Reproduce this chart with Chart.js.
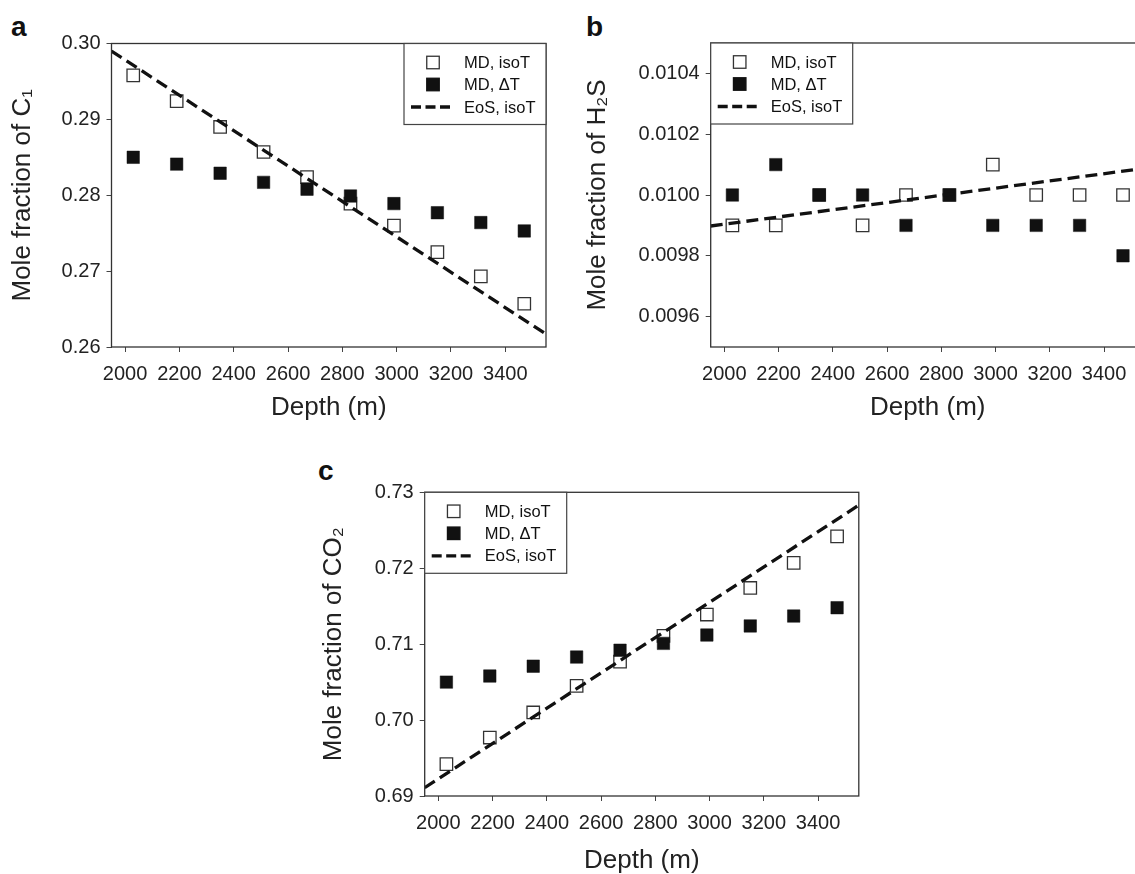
<!DOCTYPE html>
<html>
<head>
<meta charset="utf-8">
<script src="https://cdn.jsdelivr.net/npm/chart.js@4.4.1/dist/chart.umd.min.js"></script>
<style>
  body {
    margin: 0;
    width: 1135px;
    height: 874px;
    overflow: hidden;
    background: #fff;
    position: relative;
    font-family: "Liberation Sans", Arial, "DejaVu Sans", sans-serif;
  }
  canvas { position: absolute; }
  .panel-letter {
    position: absolute;
    font-weight: bold;
    font-size: 28px;
    line-height: 28px;
    color: #111;
  }
</style>
</head>
<body>
<div class="panel-letter" style="left:11px;top:13px">a</div>
<div class="panel-letter" style="left:586px;top:13px">b</div>
<div class="panel-letter" style="left:318px;top:457px">c</div>
<canvas id="chartA" width="560" height="430" style="left:0;top:0"></canvas>
<canvas id="chartB" width="600" height="430" style="left:570px;top:0"></canvas>
<canvas id="chartC" width="580" height="434" style="left:300px;top:440px"></canvas>
<script>
const FONT = '"Liberation Sans", Arial, "DejaVu Sans", sans-serif';

// depths of the MD points and of the two ends of the EoS line (m)
const depths = [2030, 2190, 2350, 2510, 2670, 2830, 2990, 3150, 3310, 3470];
const eosDepths = [1950, 3550];
const depthTicks = [2000, 2200, 2400, 2600, 2800, 3000, 3200, 3400];

// a: C1
const c1IsoT = [0.2958, 0.2924, 0.2890, 0.2857, 0.2824, 0.2789, 0.2760, 0.2725, 0.2693, 0.2657];
const c1DeltaT = [0.2850, 0.2841, 0.2829, 0.2817, 0.2808, 0.2799, 0.2789, 0.2777, 0.2764, 0.2753];
const c1Eos = [0.2990, 0.2617];
const c1Ticks = [0.26, 0.27, 0.28, 0.29, 0.30];

// b: H2S
const h2sIsoT = [0.0099, 0.0099, 0.0100, 0.0099, 0.0100, 0.0100, 0.0101, 0.0100, 0.0100, 0.0100];
const h2sDeltaT = [0.0100, 0.0101, 0.0100, 0.0100, 0.0099, 0.0100, 0.0099, 0.0099, 0.0099, 0.0098];
const h2sEos = [0.009898, 0.010088];
const h2sTicks = [0.0096, 0.0098, 0.0100, 0.0102, 0.0104];

// c: CO2
const co2IsoT = [0.6942, 0.6977, 0.7010, 0.7045, 0.7077, 0.7111, 0.7139, 0.7174, 0.7207, 0.7242];
const co2DeltaT = [0.7050, 0.7058, 0.7071, 0.7083, 0.7092, 0.7101, 0.7112, 0.7124, 0.7137, 0.7148];
const co2Eos = [0.6911, 0.7283];
const co2Ticks = [0.69, 0.70, 0.71, 0.72, 0.73];

const legendLabels = ["MD, isoT", "MD, \u0394T", "EoS, isoT"];

const toPoints = (xs, ys) => xs.map((x, i) => ({ x: x, y: ys[i] }));

// box round the plot area
const framePlugin = {
  id: "frame",
  afterDatasetsDraw(chart) {
    const { left, top, right, bottom } = chart.chartArea;
    const ctx = chart.ctx;
    ctx.save();
    ctx.strokeStyle = "#333";
    ctx.lineWidth = 1.3;
    ctx.strokeRect(left, top, right - left, bottom - top);
    ctx.restore();
  },
};

// legend in a box sitting in a corner of the plot
const boxedLegend = {
  id: "boxedLegend",
  afterDraw(chart, args, opts) {
    const ctx = chart.ctx;
    const area = chart.chartArea;
    const w = 142, h = 81;
    const x0 = opts.align === "right" ? area.right - w : area.left;
    const y0 = area.top;
    const rows = [19, 41, 63.5];

    ctx.save();
    ctx.fillStyle = "#fff";
    ctx.fillRect(x0, y0, w, h);
    ctx.strokeStyle = "#444";
    ctx.lineWidth = 1.2;
    ctx.strokeRect(x0, y0, w, h);

    chart.data.datasets.forEach((ds, i) => {
      const cy = y0 + rows[i];
      if (ds.showLine) {
        ctx.strokeStyle = ds.borderColor;
        ctx.lineWidth = ds.borderWidth;
        ctx.setLineDash([10, 4.5]);
        ctx.beginPath();
        ctx.moveTo(x0 + 7, cy);
        ctx.lineTo(x0 + 46, cy);
        ctx.stroke();
        ctx.setLineDash([]);
      } else {
        const s = 12.5;
        ctx.fillStyle = ds.backgroundColor;
        ctx.fillRect(x0 + 29 - s / 2, cy - s / 2, s, s);
        ctx.strokeStyle = ds.borderColor;
        ctx.lineWidth = 1.3;
        ctx.strokeRect(x0 + 29 - s / 2, cy - s / 2, s, s);
      }
      ctx.fillStyle = "#111";
      ctx.font = "16.5px " + FONT;
      ctx.textBaseline = "middle";
      ctx.textAlign = "left";
      ctx.fillText(ds.label, x0 + 60, cy + 1);
    });
    ctx.restore();
  },
};

function makePanel(id, p) {
  const canvas = document.getElementById(id);
  const tickFont = { family: FONT, size: 20 };
  const titleFont = { family: FONT, size: 26, lineHeight: 1 };

  return new Chart(canvas.getContext("2d"), {
    type: "scatter",
    data: {
      datasets: [
        {
          label: legendLabels[0],
          data: toPoints(depths, p.isoT),
          pointStyle: "rect",
          pointRadius: 8.8,
          backgroundColor: "#fff",
          borderColor: "#333",
          borderWidth: 1.3,
          order: 2,
        },
        {
          label: legendLabels[1],
          data: toPoints(depths, p.deltaT),
          pointStyle: "rect",
          pointRadius: 8.8,
          backgroundColor: "#111",
          borderColor: "#111",
          borderWidth: 0.5,
          order: 1,
        },
        {
          label: legendLabels[2],
          data: toPoints(eosDepths, p.eos),
          showLine: true,
          borderColor: "#111",
          borderWidth: 3.3,
          borderDash: [12, 6],
          pointRadius: 0,
          order: 0,
        },
      ],
    },
    options: {
      responsive: false,
      animation: false,
      events: [],
      layout: {
        padding: {
          left: 0,
          top: p.area.top,
          right: canvas.width - p.area.right,
          bottom: 0,
        },
      },
      plugins: {
        legend: { display: false },
        tooltip: { enabled: false },
        boxedLegend: { align: p.legendAlign },
      },
      scales: {
        x: {
          type: "linear",
          min: 1950,
          max: 3550,
          afterBuildTicks: (s) => { s.ticks = depthTicks.map((v) => ({ value: v })); },
          afterFit: (s) => { s.height = canvas.height - p.area.bottom; },
          ticks: {
            font: tickFont,
            color: "#222",
            padding: 10,
            maxRotation: 0,
            autoSkip: false,
            callback: (v) => String(v),
          },
          grid: { drawOnChartArea: false, tickLength: 5, color: "#444" },
          border: { display: false },
          title: {
            display: true,
            text: "Depth (m)",
            font: titleFont,
            color: "#222",
            padding: { top: 0, bottom: p.xTitlePad },
          },
        },
        y: {
          type: "linear",
          min: p.yMin,
          max: p.yMax,
          afterBuildTicks: (s) => { s.ticks = p.yTicks.map((v) => ({ value: v })); },
          afterFit: (s) => { s.width = p.area.left; },
          ticks: {
            font: tickFont,
            color: "#222",
            padding: 6,
            autoSkip: false,
            callback: (v) => v.toFixed(p.decimals),
          },
          grid: { drawOnChartArea: false, tickLength: 5, color: "#444" },
          border: { display: false },
          title: {
            display: true,
            text: p.yTitle,
            font: titleFont,
            color: "#222",
            padding: { top: p.yTitlePad, bottom: 0 },
          },
        },
      },
    },
    plugins: [framePlugin, boxedLegend],
  });
}

makePanel("chartA", {
  isoT: c1IsoT, deltaT: c1DeltaT, eos: c1Eos,
  yMin: 0.26, yMax: 0.30, yTicks: c1Ticks, decimals: 2,
  yTitle: "Mole fraction of C\u2081",
  area: { left: 111.5, top: 43.5, right: 546, bottom: 347 },
  yTitlePad: 10, xTitlePad: 9, legendAlign: "right",
});

makePanel("chartB", {
  isoT: h2sIsoT, deltaT: h2sDeltaT, eos: h2sEos,
  yMin: 0.0095, yMax: 0.0105, yTicks: h2sTicks, decimals: 4,
  yTitle: "Mole fraction of H\u2082S",
  area: { left: 140.7, top: 43, right: 574.7, bottom: 347 },
  yTitlePad: 15, xTitlePad: 9, legendAlign: "left",
});

makePanel("chartC", {
  isoT: co2IsoT, deltaT: co2DeltaT, eos: co2Eos,
  yMin: 0.69, yMax: 0.73, yTicks: co2Ticks, decimals: 2,
  yTitle: "Mole fraction of CO\u2082",
  area: { left: 124.7, top: 52.3, right: 558.8, bottom: 356 },
  yTitlePad: 21, xTitlePad: 0, legendAlign: "left",
});
</script>
</body>
</html>
